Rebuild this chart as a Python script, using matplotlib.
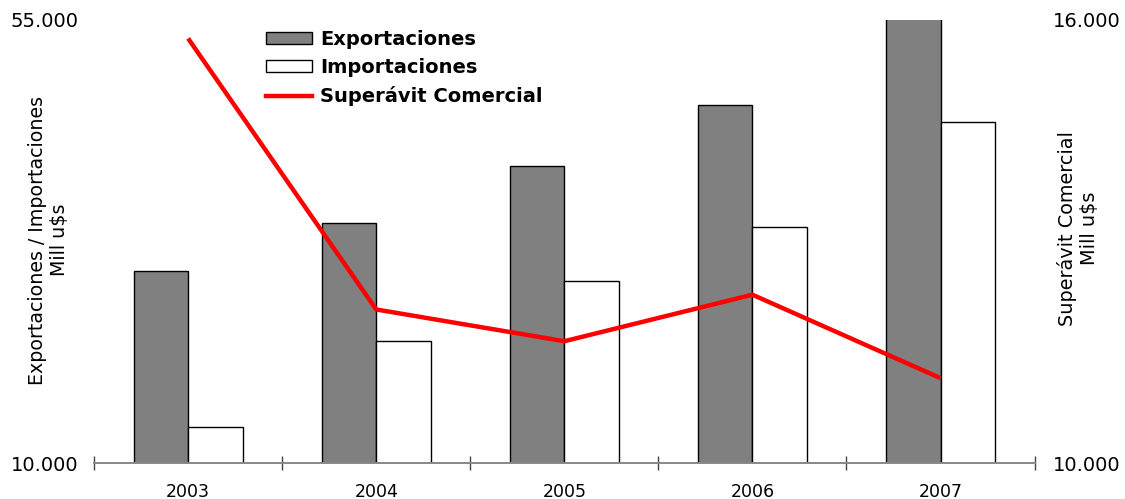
import numpy as np
import matplotlib
matplotlib.use("Agg")
import matplotlib.pyplot as plt
from matplotlib.patches import Patch
from matplotlib.lines import Line2D

# ----------------------------------------------------------------------------
#                                   Data
# ----------------------------------------------------------------------------

years = ["2003", "2004", "2005", "2006", "2007"]
exportaciones = [29500, 34400, 40150, 46350, 55800]     # Mill u$s
importaciones = [13650, 22400, 28500, 33950, 44650]     # Mill u$s
superavit = [15750, 12080, 11650, 12280, 11150]         # Mill u$s

# ----------------------------------------------------------------------------
#                                   Plot
# ----------------------------------------------------------------------------

fig = plt.figure(figsize=(11.25, 4.99), dpi=100)
ax = fig.add_axes([0.0836, 0.072, 0.836, 0.888])
ax2 = ax.twinx()

x = np.arange(len(years))
w = 0.29

ax.bar(x - w/2, exportaciones, w, color="#808080", edgecolor="black", linewidth=1.0, zorder=2)
ax.bar(x + w/2, importaciones, w, color="white", edgecolor="black", linewidth=1.0, zorder=2)
ax2.plot(x, superavit, color="#ff0000", linewidth=3.2, solid_capstyle="butt")

ax.set_xlim(-0.5, len(years) - 0.5)
ax.set_ylim(10000, 55000)
ax2.set_ylim(10000, 16000)

fmt = lambda v: f"{v:,.0f}".replace(",", ".")
ax.set_yticks([10000, 55000])
ax.set_yticklabels([fmt(10000), fmt(55000)], fontsize=14)
ax2.set_yticks([10000, 16000])
ax2.set_yticklabels([fmt(10000), fmt(16000)], fontsize=14)
ax.tick_params(axis="y", length=0, pad=11)
ax2.tick_params(axis="y", length=0, pad=13)

# category boundaries as ticks on the bottom axis
ax.set_xticks(np.arange(-0.5, len(years)), minor=False)
ax.set_xticklabels([])
ax.set_xticks(x, minor=True)
ax.set_xticklabels(years, minor=True, fontsize=12.5)
ax.tick_params(axis="x", which="major", direction="inout", length=10, width=1, color="#444444")
ax.tick_params(axis="x", which="minor", length=0, pad=14)

for a in (ax, ax2):
    for s in ("top", "left", "right"):
        a.spines[s].set_visible(False)
    a.spines["bottom"].set_color("#888888")
    a.spines["bottom"].set_linewidth(1.2)

ax.set_ylabel("Exportaciones / Importaciones\nMill u$s", fontsize=13.7)
ax.yaxis.set_label_coords(-0.027, 0.503)
ax2.set_ylabel("Superávit Comercial\nMill u$s", fontsize=13.9)
ax2.yaxis.set_label_coords(1.024, 0.53)

handles = [
    Patch(facecolor="#808080", edgecolor="black", label="Exportaciones"),
    Patch(facecolor="white", edgecolor="black", label="Importaciones"),
    Line2D([0], [0], color="#ff0000", linewidth=3.2, label="Superávit Comercial"),
]
fig.legend(handles=handles, loc="upper left", bbox_to_anchor=(0.231, 0.952),
           frameon=False, prop={"weight": "bold", "size": 14},
           handlelength=2.4, handleheight=0.6, handletextpad=0.4, labelspacing=0.48,
           borderaxespad=0, borderpad=0.3)

fig.savefig("out.png", dpi=100)
